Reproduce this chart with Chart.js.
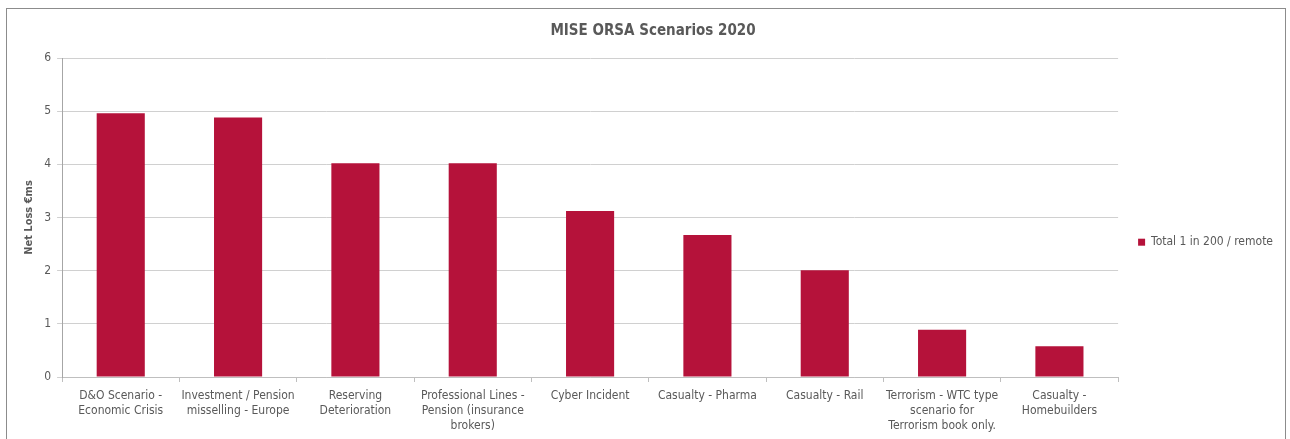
<!DOCTYPE html>
<html>
<head>
<meta charset="utf-8">
<script src="https://cdn.jsdelivr.net/npm/chart.js@4"></script>
<style>
  body { margin: 0; background: #fff; }
  #frame { position: absolute; left: 6px; top: 8px; width: 1280px; height: 440px; border: 1px solid #8c8c8c; box-sizing: border-box; }
  #frame canvas { display: block; }
</style>
</head>
<body>
<div id="frame"><canvas id="chart" width="1278" height="438"></canvas></div>
<script>
const scenarios = [
    ['D&O Scenario -', 'Economic Crisis'],
    ['Investment / Pension', 'misselling - Europe'],
    ['Reserving', 'Deterioration'],
    ['Professional Lines -', 'Pension (insurance', 'brokers)'],
    ['Cyber Incident'],
    ['Casualty - Pharma'],
    ['Casualty - Rail'],
    ['Terrorism - WTC type', 'scenario for', 'Terrorism book only.'],
    ['Casualty -', 'Homebuilders']
];
const netLoss = [4.96, 4.88, 4.02, 4.02, 3.12, 2.67, 2.01, 0.89, 0.58];
const yTicks = [0, 1, 2, 3, 4, 5, 6];

const textColor = '#595959';
const font = 'Tahoma, "DejaVu Sans Condensed", "DejaVu Sans", sans-serif';

const ctx = document.getElementById('chart').getContext('2d');
const barChart = new Chart(ctx, {
    type: 'bar',
    data: {
        labels: scenarios,
        datasets: [{
            label: 'Total 1 in 200 / remote',
            data: netLoss,
            backgroundColor: '#b5123a',
            borderWidth: 0,
            categoryPercentage: 1,
            barPercentage: 0.41
        }]
    },
    options: {
        responsive: false,
        animation: false,
        layout: { padding: { left: 16, right: 2, top: 8, bottom: 8 } },
        plugins: {
            title: {
                display: true,
                text: 'MISE ORSA Scenarios 2020',
                color: textColor,
                font: { family: font, size: 15, weight: 'bold' },
                padding: { top: 5, bottom: 18 }
            },
            legend: {
                position: 'right',
                title: {
                    display: true,
                    text: '',
                    font: { family: font, size: 12 },
                    padding: { top: 0, bottom: 14 }
                },
                labels: {
                    color: textColor,
                    font: { family: font, size: 12 },
                    boxWidth: 7,
                    boxHeight: 7,
                    padding: 20
                }
            },
            tooltip: { enabled: false }
        },
        scales: {
            x: {
                grid: {
                    offset: true,
                    drawOnChartArea: false,
                    color: '#bfbfbf',
                    tickLength: 5
                },
                border: { color: '#bfbfbf' },
                ticks: {
                    color: textColor,
                    font: { family: font, size: 12, lineHeight: 1.25 },
                    maxRotation: 0,
                    autoSkip: false,
                    padding: 6
                }
            },
            y: {
                min: 0,
                max: 6,
                afterBuildTicks: axis => { axis.ticks = yTicks.map(v => ({ value: v })); },
                grid: { color: '#d0d0d0', tickLength: 5 },
                border: { color: '#a6a6a6' },
                ticks: {
                    color: textColor,
                    font: { family: font, size: 12 },
                    padding: 6
                },
                title: {
                    display: true,
                    text: 'Net Loss €ms',
                    color: textColor,
                    font: { family: font, size: 11, weight: 'bold' },
                    padding: { top: 0, bottom: 2 }
                }
            }
        }
    }
});
</script>
</body>
</html>
